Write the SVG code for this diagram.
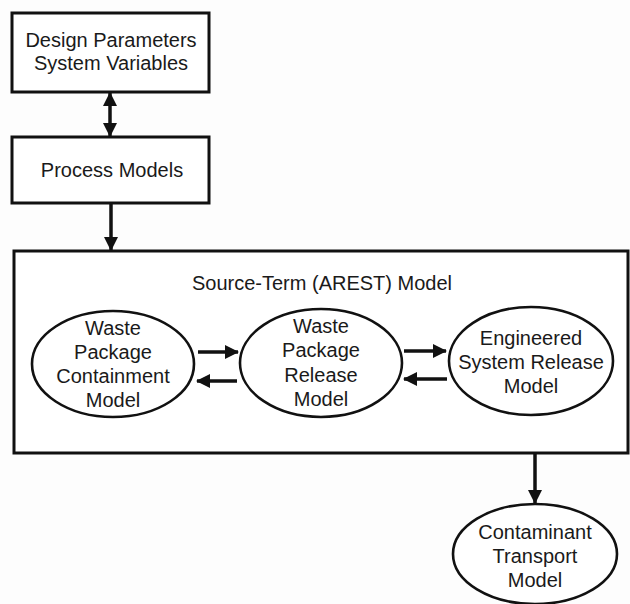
<svg xmlns="http://www.w3.org/2000/svg" width="630" height="604" viewBox="0 0 630 604">
  <style>
    .box { fill: #ffffff; stroke: #111; stroke-width: 3; }
    .oval { fill: #ffffff; stroke: #111; stroke-width: 2.6; }
    .lbl { font-family: "Liberation Sans", Arial, sans-serif; font-size: 20px; fill: #1a1a1a; text-anchor: middle; }
    .conn { stroke: #111; stroke-width: 3.5; fill: none; }
  </style>
  <defs>
    <marker id="head" viewBox="0 0 14 14" refX="13" refY="7" markerWidth="15" markerHeight="14" markerUnits="userSpaceOnUse" orient="auto-start-reverse">
      <path d="M0,0 L14,7 L0,14 Z" fill="#111"/>
    </marker>
  </defs>
  <rect width="630" height="604" fill="#fdfdfd"/>

  <g id="design-parameters">
    <rect class="box" x="12" y="13" width="197" height="79"/>
    <text class="lbl" x="111" y="47">Design Parameters</text>
    <text class="lbl" x="111" y="70">System Variables</text>
  </g>

  <g id="process-models">
    <rect class="box" x="12" y="137" width="197" height="66"/>
    <text class="lbl" x="112" y="177">Process Models</text>
  </g>

  <g id="source-term">
    <rect class="box" x="14" y="251" width="614" height="202"/>
    <text class="lbl" x="322" y="290">Source-Term (AREST) Model</text>
  </g>

  <g id="containment">
    <ellipse class="oval" cx="113" cy="364" rx="81" ry="53"/>
    <text class="lbl" x="113" y="335">Waste</text>
    <text class="lbl" x="113" y="359">Package</text>
    <text class="lbl" x="113" y="383">Containment</text>
    <text class="lbl" x="113" y="407">Model</text>
  </g>

  <g id="package-release">
    <ellipse class="oval" cx="321" cy="363" rx="81" ry="54"/>
    <text class="lbl" x="321" y="333">Waste</text>
    <text class="lbl" x="321" y="357">Package</text>
    <text class="lbl" x="321" y="382">Release</text>
    <text class="lbl" x="321" y="406">Model</text>
  </g>

  <g id="engineered-release">
    <ellipse class="oval" cx="531" cy="361" rx="82" ry="54"/>
    <text class="lbl" x="531" y="345">Engineered</text>
    <text class="lbl" x="531" y="369">System Release</text>
    <text class="lbl" x="531" y="393">Model</text>
  </g>

  <g id="contaminant-transport">
    <ellipse class="oval" cx="535" cy="554" rx="82" ry="50"/>
    <text class="lbl" x="535" y="539">Contaminant</text>
    <text class="lbl" x="535" y="563">Transport</text>
    <text class="lbl" x="535" y="587">Model</text>
  </g>

  <g id="connectors">
    <line class="conn" x1="110" y1="93" x2="110" y2="136" marker-start="url(#head)" marker-end="url(#head)"/>
    <line class="conn" x1="111" y1="204" x2="111" y2="250" marker-end="url(#head)"/>
    <line class="conn" x1="198" y1="352" x2="238" y2="352" marker-end="url(#head)"/>
    <line class="conn" x1="237" y1="381" x2="197" y2="381" marker-end="url(#head)"/>
    <line class="conn" x1="404" y1="351" x2="446" y2="351" marker-end="url(#head)"/>
    <line class="conn" x1="447" y1="379" x2="404" y2="379" marker-end="url(#head)"/>
    <line class="conn" x1="535" y1="453" x2="535" y2="503" marker-end="url(#head)"/>
  </g>
</svg>
